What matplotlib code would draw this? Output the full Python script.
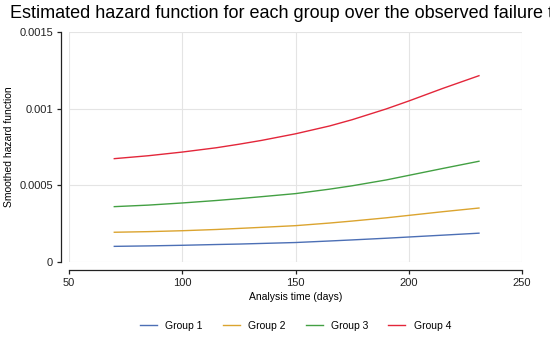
import matplotlib
matplotlib.use("Agg")
import matplotlib.pyplot as plt

plt.rcParams['font.family'] = ['Liberation Sans', 'DejaVu Sans']

# values
days = [70, 85, 100, 115, 125, 135, 150, 165, 175, 190, 200, 215, 231]
group1 = [0.000102, 0.000105, 0.000109, 0.000114, 0.000117, 0.000121, 0.000127,
          0.000137, 0.000144, 0.000155, 0.000163, 0.000175, 0.000188]
group2 = [0.000194, 0.000198, 0.000204, 0.000212, 0.000219, 0.000226, 0.000237,
          0.000254, 0.000267, 0.000288, 0.000304, 0.000328, 0.000352]
group3 = [0.000361, 0.000371, 0.000385, 0.000401, 0.000413, 0.000426, 0.000446,
          0.000475, 0.000497, 0.000535, 0.000565, 0.000610, 0.000657]
group4 = [0.000674, 0.000693, 0.000717, 0.000745, 0.000768, 0.000793, 0.000836,
          0.000887, 0.000928, 0.000998, 0.001050, 0.001132, 0.001215]

labels = ['Group 1', 'Group 2', 'Group 3', 'Group 4']
colors = ['#4C6FB5', '#DBA42F', '#43A043', '#E3263A']

xticks = [50, 100, 150, 200, 250]
yticks = [0, 0.0005, 0.001, 0.0015]
ytick_labels = ['0', '0.0005', '0.001', '0.0015']

W, H = 550, 337
fig = plt.figure(figsize=(W / 100, H / 100), dpi=100)
# axes placed in pixel coordinates (left, bottom, width, height)
ax = fig.add_axes([69 / W, (H - 262) / H, (522 - 69) / W, (262 - 32) / H])

for ys, lab, c in zip([group1, group2, group3, group4], labels, colors):
    ax.plot(days, ys, color=c, linewidth=1.0, label=lab)

ax.set_xlim(50, 250)
ax.set_ylim(0, 0.0015)
ax.set_xticks(xticks)
ax.set_yticks(yticks)
ax.set_yticklabels(ytick_labels)
ax.grid(True, color='#E4E4E4', linewidth=0.8)
ax.set_axisbelow(True)

for side in ['top', 'right']:
    ax.spines[side].set_visible(False)
ax.spines['left'].set_position(('outward', 6))
ax.spines['bottom'].set_position(('outward', 6))
ax.spines['left'].set_bounds(0, 0.0015)
ax.spines['bottom'].set_bounds(50, 250)
for side in ['left', 'bottom']:
    ax.spines[side].set_color('#222222')
    ax.spines[side].set_linewidth(0.9)
ax.tick_params(axis='both', labelsize=8, colors='#222222', length=3, width=0.9, pad=2.5)

ax.set_xlabel('Analysis time (days)', fontsize=7.5, labelpad=3)
ax.set_ylabel('Smoothed hazard function', fontsize=7.5, labelpad=4)

# title runs past the right edge, as in the reference
fig.text(10 / W, 1 - 13 / H, 'Estimated hazard function for each group over the observed failure time',
         fontsize=13, ha='left', va='center')

ax.legend(loc='center', bbox_to_anchor=(0.5, (262 - 326) / (262 - 32)), ncol=4,
          frameon=False, fontsize=7.5, handlelength=1.65, columnspacing=1.9, handletextpad=0.8)

fig.savefig('out.png', dpi=100)
